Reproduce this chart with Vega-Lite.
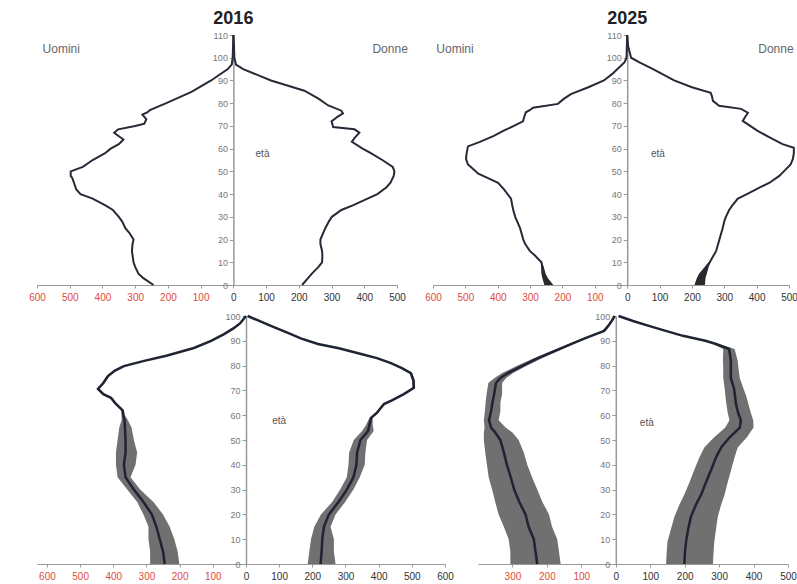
{
"$schema": "https://vega.github.io/schema/vega-lite/v6.json",
"padding": {"left": 28, "top": 10, "right": 0, "bottom": 0},
"background": "white",
"columns": 2,
"bounds": "flush",
"spacing": {"row": 31, "column": 36},
"config": {"view": {"stroke": null}, "font": "Liberation Sans", "axis": {"grid": false, "title": null, "labelOverlap": false, "labelFlush": false, "domainColor": "#999999", "tickColor": "#999999"}, "axisX": {"labelFontSize": 10, "labelPadding": 4, "tickSize": 3}, "axisY": {"labelFontSize": 9, "labelColor": "#777777", "tickSize": 4, "domainWidth": 1.5, "labelPadding": 2}},
"datasets": {
"tl": [
{"s":"M","a":0,"v":-244},{"s":"M","a":3,"v":-275},{"s":"M","a":5,"v":-290},{"s":"M","a":8,"v":-300},{"s":"M","a":10,"v":-305},{"s":"M","a":13,"v":-308},{"s":"M","a":15,"v":-310},{"s":"M","a":18,"v":-308},{"s":"M","a":20,"v":-305},{"s":"M","a":23,"v":-318},{"s":"M","a":25,"v":-330},{"s":"M","a":28,"v":-340},{"s":"M","a":30,"v":-350},{"s":"M","a":33,"v":-368},{"s":"M","a":35,"v":-391},{"s":"M","a":38,"v":-430},{"s":"M","a":40,"v":-467},{"s":"M","a":42,"v":-480},{"s":"M","a":45,"v":-487},{"s":"M","a":47,"v":-492},{"s":"M","a":48,"v":-497},{"s":"M","a":50,"v":-497},{"s":"M","a":52,"v":-460},{"s":"M","a":55,"v":-430},{"s":"M","a":58,"v":-392},{"s":"M","a":60,"v":-375},{"s":"M","a":62,"v":-350},{"s":"M","a":64,"v":-336},{"s":"M","a":66,"v":-355},{"s":"M","a":67,"v":-364},{"s":"M","a":68.5,"v":-352},{"s":"M","a":70,"v":-300},{"s":"M","a":71,"v":-272},{"s":"M","a":73,"v":-266},{"s":"M","a":75,"v":-278},{"s":"M","a":76,"v":-262},{"s":"M","a":77,"v":-255},{"s":"M","a":80,"v":-205},{"s":"M","a":85,"v":-128},{"s":"M","a":90,"v":-68},{"s":"M","a":95,"v":-17},{"s":"M","a":97,"v":-5},{"s":"M","a":100,"v":-2},{"s":"M","a":105,"v":-1},{"s":"M","a":110,"v":0},
{"s":"F","a":0,"v":210},{"s":"F","a":3,"v":228},{"s":"F","a":5,"v":240},{"s":"F","a":8,"v":260},{"s":"F","a":10,"v":271},{"s":"F","a":13,"v":272},{"s":"F","a":15,"v":271},{"s":"F","a":18,"v":266},{"s":"F","a":20,"v":266},{"s":"F","a":23,"v":275},{"s":"F","a":25,"v":281},{"s":"F","a":28,"v":292},{"s":"F","a":30,"v":301},{"s":"F","a":33,"v":330},{"s":"F","a":35,"v":365},{"s":"F","a":38,"v":410},{"s":"F","a":40,"v":440},{"s":"F","a":43,"v":468},{"s":"F","a":45,"v":480},{"s":"F","a":48,"v":490},{"s":"F","a":50,"v":492},{"s":"F","a":52,"v":487},{"s":"F","a":55,"v":455},{"s":"F","a":58,"v":420},{"s":"F","a":60,"v":395},{"s":"F","a":63,"v":362},{"s":"F","a":65,"v":372},{"s":"F","a":67,"v":385},{"s":"F","a":68.5,"v":370},{"s":"F","a":69.5,"v":305},{"s":"F","a":72,"v":300},{"s":"F","a":74,"v":318},{"s":"F","a":75.5,"v":335},{"s":"F","a":76.7,"v":330},{"s":"F","a":79,"v":290},{"s":"F","a":82,"v":260},{"s":"F","a":85.5,"v":217},{"s":"F","a":90,"v":115},{"s":"F","a":95,"v":30},{"s":"F","a":97,"v":8},{"s":"F","a":100,"v":3},{"s":"F","a":105,"v":2},{"s":"F","a":110,"v":0}
],
"tr": [
{"s":"M","a":0,"v":-240},{"s":"M","a":3,"v":-252},{"s":"M","a":5,"v":-260},{"s":"M","a":8,"v":-262},{"s":"M","a":10,"v":-265},{"s":"M","a":13,"v":-285},{"s":"M","a":15,"v":-301},{"s":"M","a":18,"v":-315},{"s":"M","a":20,"v":-321},{"s":"M","a":23,"v":-327},{"s":"M","a":25,"v":-331},{"s":"M","a":28,"v":-340},{"s":"M","a":30,"v":-346},{"s":"M","a":33,"v":-352},{"s":"M","a":35,"v":-355},{"s":"M","a":38,"v":-359},{"s":"M","a":42,"v":-380},{"s":"M","a":45,"v":-399},{"s":"M","a":47,"v":-430},{"s":"M","a":49,"v":-460},{"s":"M","a":51,"v":-476},{"s":"M","a":53,"v":-492},{"s":"M","a":55.5,"v":-498},{"s":"M","a":58,"v":-496},{"s":"M","a":61,"v":-492},{"s":"M","a":63,"v":-455},{"s":"M","a":65.6,"v":-412},{"s":"M","a":68,"v":-380},{"s":"M","a":70,"v":-350},{"s":"M","a":72,"v":-322},{"s":"M","a":74,"v":-318},{"s":"M","a":76,"v":-313},{"s":"M","a":77,"v":-300},{"s":"M","a":78,"v":-291},{"s":"M","a":79.7,"v":-214},{"s":"M","a":82,"v":-195},{"s":"M","a":84,"v":-174},{"s":"M","a":87,"v":-120},{"s":"M","a":90,"v":-72},{"s":"M","a":93,"v":-45},{"s":"M","a":95,"v":-30},{"s":"M","a":98,"v":-8},{"s":"M","a":100,"v":-2},{"s":"M","a":105,"v":-1},{"s":"M","a":110,"v":0},
{"s":"F","a":0,"v":224},{"s":"F","a":3,"v":228},{"s":"F","a":5,"v":234},{"s":"F","a":8,"v":245},{"s":"F","a":10,"v":255},{"s":"F","a":13,"v":267},{"s":"F","a":15,"v":275},{"s":"F","a":18,"v":281},{"s":"F","a":20,"v":285},{"s":"F","a":23,"v":291},{"s":"F","a":25,"v":295},{"s":"F","a":28,"v":300},{"s":"F","a":30,"v":305},{"s":"F","a":33,"v":315},{"s":"F","a":35,"v":325},{"s":"F","a":38,"v":342},{"s":"F","a":40,"v":370},{"s":"F","a":43,"v":410},{"s":"F","a":45,"v":440},{"s":"F","a":48,"v":470},{"s":"F","a":50,"v":484},{"s":"F","a":53,"v":505},{"s":"F","a":55.5,"v":512},{"s":"F","a":58,"v":515},{"s":"F","a":60.4,"v":515},{"s":"F","a":62,"v":480},{"s":"F","a":65,"v":440},{"s":"F","a":67.8,"v":403},{"s":"F","a":70,"v":380},{"s":"F","a":72.2,"v":357},{"s":"F","a":74,"v":365},{"s":"F","a":75.8,"v":373},{"s":"F","a":77.5,"v":352},{"s":"F","a":78.9,"v":284},{"s":"F","a":81,"v":265},{"s":"F","a":83,"v":262},{"s":"F","a":84.6,"v":258},{"s":"F","a":87,"v":200},{"s":"F","a":90,"v":145},{"s":"F","a":95,"v":80},{"s":"F","a":98,"v":38},{"s":"F","a":100,"v":12},{"s":"F","a":105,"v":3},{"s":"F","a":110,"v":0}
],
"trb": [
{"s":"M","a":0,"lo":-256,"hi":-228},{"s":"M","a":3,"lo":-262,"hi":-245},{"s":"M","a":5,"lo":-265,"hi":-252},{"s":"M","a":8,"lo":-266,"hi":-258},{"s":"M","a":10,"lo":-267,"hi":-263},
{"s":"F","a":0,"lo":208,"hi":240},{"s":"F","a":3,"lo":215,"hi":242},{"s":"F","a":5,"lo":222,"hi":246},{"s":"F","a":8,"lo":240,"hi":252},{"s":"F","a":10,"lo":252,"hi":258}
],
"bl": [
{"s":"M","a":0,"v":-245,"lo":-289,"hi":-201},{"s":"M","a":5,"v":-250,"lo":-289,"hi":-206},{"s":"M","a":10,"v":-260,"lo":-294,"hi":-216},{"s":"M","a":15,"v":-270,"lo":-294,"hi":-230},{"s":"M","a":20,"v":-284,"lo":-309,"hi":-250},{"s":"M","a":25,"v":-309,"lo":-328,"hi":-279},{"s":"M","a":30,"v":-338,"lo":-358,"hi":-319},{"s":"M","a":35,"v":-363,"lo":-387,"hi":-348},{"s":"M","a":40,"v":-368,"lo":-392,"hi":-333},{"s":"M","a":45,"v":-363,"lo":-392,"hi":-328},{"s":"M","a":50,"v":-363,"lo":-387,"hi":-338},{"s":"M","a":55,"v":-365,"lo":-382,"hi":-345},{"s":"M","a":58,"v":-366,"lo":-375,"hi":-356},{"s":"M","a":60,"v":-370,"lo":-375,"hi":-365},{"s":"M","a":62,"v":-372,"lo":-376,"hi":-368},{"s":"M","a":65,"v":-395,"lo":-399,"hi":-391},{"s":"M","a":67,"v":-407,"lo":-411,"hi":-403},{"s":"M","a":68.5,"v":-430,"lo":-434,"hi":-426},{"s":"M","a":70.6,"v":-446,"lo":-450,"hi":-442},{"s":"M","a":73,"v":-430,"lo":-434,"hi":-426},{"s":"M","a":75.8,"v":-416,"lo":-420,"hi":-412},{"s":"M","a":78,"v":-395,"lo":-399,"hi":-391},{"s":"M","a":79.8,"v":-368,"lo":-372,"hi":-364},{"s":"M","a":81.9,"v":-307,"lo":-311,"hi":-303},{"s":"M","a":84,"v":-240,"lo":-244,"hi":-236},{"s":"M","a":87.1,"v":-157,"lo":-161,"hi":-153},{"s":"M","a":90,"v":-105,"lo":-109,"hi":-101},{"s":"M","a":92.7,"v":-66,"lo":-70,"hi":-62},{"s":"M","a":95,"v":-38,"lo":-42,"hi":-34},{"s":"M","a":97,"v":-18,"lo":-21,"hi":-15},{"s":"M","a":100,"v":0,"lo":-2,"hi":2},
{"s":"F","a":0,"v":225,"lo":186,"hi":270},{"s":"F","a":5,"v":228,"lo":191,"hi":265},{"s":"F","a":10,"v":230,"lo":196,"hi":265},{"s":"F","a":15,"v":235,"lo":206,"hi":255},{"s":"F","a":20,"v":250,"lo":226,"hi":270},{"s":"F","a":25,"v":279,"lo":260,"hi":299},{"s":"F","a":30,"v":304,"lo":284,"hi":324},{"s":"F","a":35,"v":324,"lo":304,"hi":343},{"s":"F","a":40,"v":333,"lo":309,"hi":358},{"s":"F","a":45,"v":335,"lo":311,"hi":360},{"s":"F","a":50,"v":345,"lo":325,"hi":365},{"s":"F","a":53.6,"v":368,"lo":350,"hi":385},{"s":"F","a":56,"v":372,"lo":362,"hi":382},{"s":"F","a":58.9,"v":377,"lo":372,"hi":382},{"s":"F","a":61,"v":395,"lo":391,"hi":399},{"s":"F","a":64.5,"v":416,"lo":412,"hi":420},{"s":"F","a":66,"v":440,"lo":436,"hi":444},{"s":"F","a":68.5,"v":476,"lo":472,"hi":480},{"s":"F","a":71,"v":506,"lo":502,"hi":510},{"s":"F","a":74,"v":505,"lo":501,"hi":509},{"s":"F","a":77,"v":497,"lo":493,"hi":501},{"s":"F","a":79,"v":470,"lo":466,"hi":474},{"s":"F","a":81,"v":437,"lo":433,"hi":441},{"s":"F","a":83,"v":395,"lo":391,"hi":399},{"s":"F","a":84.7,"v":347,"lo":343,"hi":351},{"s":"F","a":87,"v":280,"lo":276,"hi":284},{"s":"F","a":88.7,"v":217,"lo":213,"hi":221},{"s":"F","a":91,"v":165,"lo":161,"hi":169},{"s":"F","a":93,"v":130,"lo":126,"hi":134},{"s":"F","a":96,"v":75,"lo":71,"hi":79},{"s":"F","a":98,"v":40,"lo":37,"hi":43},{"s":"F","a":100,"v":5,"lo":3,"hi":7}
],
"br": [
{"s":"M","a":0,"v":-228,"lo":-306,"hi":-160},{"s":"M","a":5,"v":-233,"lo":-306,"hi":-165},{"s":"M","a":10,"v":-238,"lo":-311,"hi":-170},{"s":"M","a":15,"v":-253,"lo":-325,"hi":-185},{"s":"M","a":20,"v":-262,"lo":-340,"hi":-194},{"s":"M","a":25,"v":-280,"lo":-350,"hi":-213},{"s":"M","a":30,"v":-295,"lo":-359,"hi":-228},{"s":"M","a":35,"v":-305,"lo":-369,"hi":-243},{"s":"M","a":40,"v":-316,"lo":-374,"hi":-257},{"s":"M","a":45,"v":-325,"lo":-379,"hi":-267},{"s":"M","a":50,"v":-335,"lo":-383,"hi":-282},{"s":"M","a":53,"v":-350,"lo":-383,"hi":-300},{"s":"M","a":55,"v":-362,"lo":-381,"hi":-320},{"s":"M","a":58,"v":-368,"lo":-383,"hi":-340},{"s":"M","a":61.7,"v":-362,"lo":-380,"hi":-335},{"s":"M","a":65,"v":-358,"lo":-378,"hi":-335},{"s":"M","a":68.5,"v":-353,"lo":-375,"hi":-330},{"s":"M","a":73,"v":-348,"lo":-370,"hi":-330},{"s":"M","a":75,"v":-335,"lo":-352,"hi":-318},{"s":"M","a":77,"v":-313,"lo":-330,"hi":-298},{"s":"M","a":80,"v":-270,"lo":-285,"hi":-257},{"s":"M","a":83,"v":-226,"lo":-238,"hi":-214},{"s":"M","a":86,"v":-175,"lo":-185,"hi":-165},{"s":"M","a":88.7,"v":-130,"lo":-137,"hi":-123},{"s":"M","a":91,"v":-90,"lo":-95,"hi":-85},{"s":"M","a":94,"v":-34,"lo":-38,"hi":-30},{"s":"M","a":96,"v":-22,"lo":-25,"hi":-19},{"s":"M","a":98,"v":-12,"lo":-14,"hi":-10},{"s":"M","a":100,"v":-3,"lo":-5,"hi":-1},
{"s":"F","a":0,"v":199,"lo":146,"hi":282},{"s":"F","a":5,"v":201,"lo":148,"hi":284},{"s":"F","a":9,"v":204,"lo":150,"hi":286},{"s":"F","a":14,"v":210,"lo":160,"hi":291},{"s":"F","a":19,"v":218,"lo":170,"hi":296},{"s":"F","a":24,"v":233,"lo":185,"hi":306},{"s":"F","a":28,"v":248,"lo":199,"hi":316},{"s":"F","a":33,"v":262,"lo":214,"hi":325},{"s":"F","a":38,"v":277,"lo":228,"hi":335},{"s":"F","a":43,"v":291,"lo":243,"hi":345},{"s":"F","a":47,"v":306,"lo":257,"hi":354},{"s":"F","a":51,"v":330,"lo":285,"hi":380},{"s":"F","a":55,"v":360,"lo":318,"hi":400},{"s":"F","a":58,"v":363,"lo":330,"hi":399},{"s":"F","a":61,"v":355,"lo":325,"hi":392},{"s":"F","a":64.5,"v":349,"lo":321,"hi":385},{"s":"F","a":68,"v":346,"lo":318,"hi":378},{"s":"F","a":71,"v":343,"lo":316,"hi":370},{"s":"F","a":75,"v":334,"lo":312,"hi":360},{"s":"F","a":79,"v":334,"lo":312,"hi":356},{"s":"F","a":82,"v":334,"lo":311,"hi":354},{"s":"F","a":86.7,"v":329,"lo":312,"hi":345},{"s":"F","a":88.7,"v":291,"lo":282,"hi":300},{"s":"F","a":90,"v":260,"lo":253,"hi":267},{"s":"F","a":92,"v":195,"lo":190,"hi":200},{"s":"F","a":94,"v":145,"lo":141,"hi":149},{"s":"F","a":96,"v":96,"lo":92,"hi":100},{"s":"F","a":98,"v":50,"lo":47,"hi":53},{"s":"F","a":100,"v":8,"lo":6,"hi":10}
]
},
"concat": [
{
"width": 360, "height": 250,
"layer": [
{"data": {"name": "tl"}, "mark": {"type": "line", "color": "#262a36", "strokeWidth": 2},
 "encoding": {
  "x": {"field": "v", "type": "quantitative", "scale": {"domain": [-600, 500], "nice": false, "zero": false},
   "axis": {"values": [-600,-500,-400,-300,-200,-100,0,100,200,300,400,500], "labelExpr": "abs(datum.value)", "labelColor": {"condition": {"test": "datum.value < 0", "value": "#e04a40"}, "value": "#333333"}}},
  "y": {"field": "a", "type": "quantitative", "scale": {"domain": [0, 110], "nice": false},
   "axis": {"values": [0,10,20,30,40,50,60,70,80,90,100,110], "offset": -196.4}},
  "detail": {"field": "s"},
  "order": {"field": "a", "type": "quantitative"}}},
{"data": {"values": [{}]}, "mark": {"type": "text", "fontSize": 18, "fontWeight": "bold", "color": "#222222"}, "encoding": {
  "x": {"datum": 0, "axis": {"values": [-600,-500,-400,-300,-200,-100,0,100,200,300,400,500], "labelExpr": "abs(datum.value)", "labelColor": {"condition": {"test": "datum.value < 0", "value": "#e04a40"}, "value": "#333333"}}},
  "y": {"datum": 117, "axis": {"values": [0,10,20,30,40,50,60,70,80,90,100,110], "offset": -196.4}},
  "text": {"value": "2016"}}},
{"data": {"values": [{}]}, "mark": {"type": "text", "fontSize": 12, "color": "#666666"}, "encoding": {
  "x": {"datum": -526, "axis": {"values": [-600,-500,-400,-300,-200,-100,0,100,200,300,400,500], "labelExpr": "abs(datum.value)", "labelColor": {"condition": {"test": "datum.value < 0", "value": "#e04a40"}, "value": "#333333"}}},
  "y": {"datum": 104, "axis": {"values": [0,10,20,30,40,50,60,70,80,90,100,110], "offset": -196.4}},
  "text": {"value": "Uomini"}}},
{"data": {"values": [{}]}, "mark": {"type": "text", "fontSize": 12, "color": "#666666", "align": "left"}, "encoding": {
  "x": {"datum": 425, "axis": {"values": [-600,-500,-400,-300,-200,-100,0,100,200,300,400,500], "labelExpr": "abs(datum.value)", "labelColor": {"condition": {"test": "datum.value < 0", "value": "#e04a40"}, "value": "#333333"}}},
  "y": {"datum": 104, "axis": {"values": [0,10,20,30,40,50,60,70,80,90,100,110], "offset": -196.4}},
  "text": {"value": "Donne"}}},
{"data": {"values": [{}]}, "mark": {"type": "text", "fontSize": 10, "color": "#555555"}, "encoding": {
  "x": {"datum": 89, "axis": {"values": [-600,-500,-400,-300,-200,-100,0,100,200,300,400,500], "labelExpr": "abs(datum.value)", "labelColor": {"condition": {"test": "datum.value < 0", "value": "#e04a40"}, "value": "#333333"}}},
  "y": {"datum": 57.7, "axis": {"values": [0,10,20,30,40,50,60,70,80,90,100,110], "offset": -196.4}},
  "text": {"value": "età"}}}
]
},
{
"width": 356, "height": 250,
"layer": [
{"data": {"name": "trb"}, "mark": {"type": "area", "orient": "horizontal", "color": "#2a2a2a"},
 "encoding": {
  "x": {"field": "lo", "type": "quantitative", "scale": {"domain": [-600, 500], "nice": false, "zero": false},
   "axis": {"values": [-600,-500,-400,-300,-200,-100,0,100,200,300,400,500], "labelExpr": "abs(datum.value)", "labelColor": {"condition": {"test": "datum.value < 0", "value": "#e04a40"}, "value": "#333333"}}},
  "x2": {"field": "hi"},
  "y": {"field": "a", "type": "quantitative", "scale": {"domain": [0, 110], "nice": false},
   "axis": {"values": [0,10,20,30,40,50,60,70,80,90,100,110], "offset": -194.2}},
  "detail": {"field": "s"}}},
{"data": {"name": "tr"}, "mark": {"type": "line", "color": "#262a36", "strokeWidth": 2},
 "encoding": {
  "x": {"field": "v", "type": "quantitative", "axis": {"values": [-600,-500,-400,-300,-200,-100,0,100,200,300,400,500], "labelExpr": "abs(datum.value)", "labelColor": {"condition": {"test": "datum.value < 0", "value": "#e04a40"}, "value": "#333333"}}},
  "y": {"field": "a", "type": "quantitative", "axis": {"values": [0,10,20,30,40,50,60,70,80,90,100,110], "offset": -194.2}},
  "detail": {"field": "s"},
  "order": {"field": "a", "type": "quantitative"}}},
{"data": {"values": [{}]}, "mark": {"type": "text", "fontSize": 18, "fontWeight": "bold", "color": "#222222"}, "encoding": {
  "x": {"datum": 0, "axis": {"values": [-600,-500,-400,-300,-200,-100,0,100,200,300,400,500], "labelExpr": "abs(datum.value)", "labelColor": {"condition": {"test": "datum.value < 0", "value": "#e04a40"}, "value": "#333333"}}},
  "y": {"datum": 117, "axis": {"values": [0,10,20,30,40,50,60,70,80,90,100,110], "offset": -194.2}},
  "text": {"value": "2025"}}},
{"data": {"values": [{}]}, "mark": {"type": "text", "fontSize": 12, "color": "#666666"}, "encoding": {
  "x": {"datum": -532, "axis": {"values": [-600,-500,-400,-300,-200,-100,0,100,200,300,400,500], "labelExpr": "abs(datum.value)", "labelColor": {"condition": {"test": "datum.value < 0", "value": "#e04a40"}, "value": "#333333"}}},
  "y": {"datum": 104, "axis": {"values": [0,10,20,30,40,50,60,70,80,90,100,110], "offset": -194.2}},
  "text": {"value": "Uomini"}}},
{"data": {"values": [{}]}, "mark": {"type": "text", "fontSize": 12, "color": "#666666", "align": "left"}, "encoding": {
  "x": {"datum": 405, "axis": {"values": [-600,-500,-400,-300,-200,-100,0,100,200,300,400,500], "labelExpr": "abs(datum.value)", "labelColor": {"condition": {"test": "datum.value < 0", "value": "#e04a40"}, "value": "#333333"}}},
  "y": {"datum": 104, "axis": {"values": [0,10,20,30,40,50,60,70,80,90,100,110], "offset": -194.2}},
  "text": {"value": "Donne"}}},
{"data": {"values": [{}]}, "mark": {"type": "text", "fontSize": 10, "color": "#555555"}, "encoding": {
  "x": {"datum": 95, "axis": {"values": [-600,-500,-400,-300,-200,-100,0,100,200,300,400,500], "labelExpr": "abs(datum.value)", "labelColor": {"condition": {"test": "datum.value < 0", "value": "#e04a40"}, "value": "#333333"}}},
  "y": {"datum": 57.7, "axis": {"values": [0,10,20,30,40,50,60,70,80,90,100,110], "offset": -194.2}},
  "text": {"value": "età"}}}
]
},
{
"width": 360, "height": 248,
"layer": [
{"data": {"name": "bl"}, "mark": {"type": "area", "orient": "horizontal", "color": "#707070"},
 "encoding": {
  "x": {"field": "lo", "type": "quantitative", "scale": {"domain": [-630, 600], "range": [0, 408], "nice": false, "zero": false},
   "axis": {"values": [-600,-500,-400,-300,-200,-100,0,100,200,300,400,500,600], "labelExpr": "abs(datum.value)", "labelColor": {"condition": {"test": "datum.value < 0", "value": "#e04a40"}, "value": "#333333"}}},
  "x2": {"field": "hi"},
  "y": {"field": "a", "type": "quantitative", "scale": {"domain": [0, 100], "nice": false},
   "axis": {"values": [0,10,20,30,40,50,60,70,80,90,100], "offset": -209}},
  "detail": {"field": "s"}}},
{"data": {"name": "bl"}, "mark": {"type": "line", "color": "#1f2432", "strokeWidth": 2.5},
 "encoding": {
  "x": {"field": "v", "type": "quantitative", "axis": {"values": [-600,-500,-400,-300,-200,-100,0,100,200,300,400,500,600], "labelExpr": "abs(datum.value)", "labelColor": {"condition": {"test": "datum.value < 0", "value": "#e04a40"}, "value": "#333333"}}},
  "y": {"field": "a", "type": "quantitative", "axis": {"values": [0,10,20,30,40,50,60,70,80,90,100], "offset": -209}},
  "detail": {"field": "s"},
  "order": {"field": "a", "type": "quantitative"}}},
{"data": {"values": [{}]}, "mark": {"type": "text", "fontSize": 10, "color": "#555555"}, "encoding": {
  "x": {"datum": 100, "axis": {"values": [-600,-500,-400,-300,-200,-100,0,100,200,300,400,500,600], "labelExpr": "abs(datum.value)", "labelColor": {"condition": {"test": "datum.value < 0", "value": "#e04a40"}, "value": "#333333"}}},
  "y": {"datum": 57.7, "axis": {"values": [0,10,20,30,40,50,60,70,80,90,100], "offset": -209}},
  "text": {"value": "età"}}}
]
},
{
"width": 356, "height": 248,
"layer": [
{"data": {"name": "br"}, "mark": {"type": "area", "orient": "horizontal", "color": "#707070"},
 "encoding": {
  "x": {"field": "lo", "type": "quantitative", "scale": {"domain": [-400, 500], "range": [45, 355], "nice": false, "zero": false},
   "axis": {"values": [-300,-200,-100,0,100,200,300,400,500], "labelExpr": "abs(datum.value)", "labelColor": {"condition": {"test": "datum.value < 0", "value": "#e04a40"}, "value": "#333333"}}},
  "x2": {"field": "hi"},
  "y": {"field": "a", "type": "quantitative", "scale": {"domain": [0, 100], "nice": false},
   "axis": {"values": [0,10,20,30,40,50,60,70,80,90,100], "offset": -182.8}},
  "detail": {"field": "s"}}},
{"data": {"name": "br"}, "mark": {"type": "line", "color": "#1f2432", "strokeWidth": 2.5},
 "encoding": {
  "x": {"field": "v", "type": "quantitative", "axis": {"values": [-300,-200,-100,0,100,200,300,400,500], "labelExpr": "abs(datum.value)", "labelColor": {"condition": {"test": "datum.value < 0", "value": "#e04a40"}, "value": "#333333"}}},
  "y": {"field": "a", "type": "quantitative", "axis": {"values": [0,10,20,30,40,50,60,70,80,90,100], "offset": -182.8}},
  "detail": {"field": "s"},
  "order": {"field": "a", "type": "quantitative"}}},
{"data": {"values": [{}]}, "mark": {"type": "text", "fontSize": 10, "color": "#555555"}, "encoding": {
  "x": {"datum": 90, "axis": {"values": [-300,-200,-100,0,100,200,300,400,500], "labelExpr": "abs(datum.value)", "labelColor": {"condition": {"test": "datum.value < 0", "value": "#e04a40"}, "value": "#333333"}}},
  "y": {"datum": 57, "axis": {"values": [0,10,20,30,40,50,60,70,80,90,100], "offset": -182.8}},
  "text": {"value": "età"}}}
]
}
]
}
